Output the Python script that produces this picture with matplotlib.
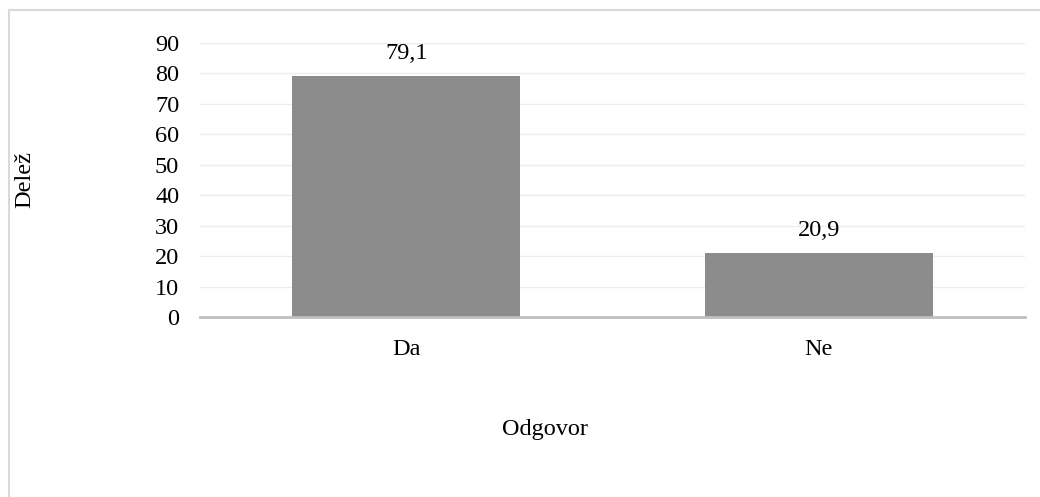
import matplotlib.pyplot as plt
from matplotlib.lines import Line2D

categories = ['Da', 'Ne']
shares = [79.1, 20.9]
value_labels = ['79,1', '20,9']
yticks = [0, 10, 20, 30, 40, 50, 60, 70, 80, 90]

plt.rcParams['font.family'] = ['Liberation Serif', 'DejaVu Serif']
FS = 17.5

W, H = 1040, 497
fig = plt.figure(figsize=(W / 100, H / 100), dpi=100)

# outer frame (left and top edges visible)
fig.add_artist(Line2D([8.5 / W, 8.5 / W], [0, 1 - 10 / H], color='#d9d9d9', lw=1.5))
fig.add_artist(Line2D([8.5 / W, 1], [1 - 10 / H, 1 - 10 / H], color='#d9d9d9', lw=1.5))

ax = fig.add_axes([200 / W, 1 - 317 / H, 825 / W, (317 - 43) / H])
x = range(len(categories))
ax.bar(x, shares, width=0.553, color='#8c8c8c', zorder=3)
for i, (v, lab) in enumerate(zip(shares, value_labels)):
    ax.annotate(lab, (i, v), xytext=(0, 16.5), textcoords='offset points',
                ha='center', va='center', fontsize=FS)

ax.set_xlim(-0.5, 1.5)
ax.set_ylim(0, 90)
ax.set_yticks(yticks)
ax.set_yticklabels([str(t) for t in yticks])
ax.set_xticks(list(x))
ax.set_xticklabels(categories)
ax.tick_params(axis='y', length=0, pad=15, labelsize=FS)
ax.tick_params(axis='x', length=0, pad=15.5, labelsize=FS)
ax.grid(axis='y', color='#ececec', lw=1, zorder=0)
for s in ['top', 'right', 'left']:
    ax.spines[s].set_visible(False)
ax.spines['bottom'].set_color('#bfbfbf')
ax.spines['bottom'].set_linewidth(2)
ax.spines['bottom'].set_zorder(4)

fig.text(25 / W, 1 - 179 / H, 'Delež', rotation=90, ha='center', va='center', fontsize=FS)
fig.text(545 / W, 1 - 430 / H, 'Odgovor', ha='center', va='center', fontsize=FS)

fig.savefig('out.png', dpi=100, facecolor='white')
